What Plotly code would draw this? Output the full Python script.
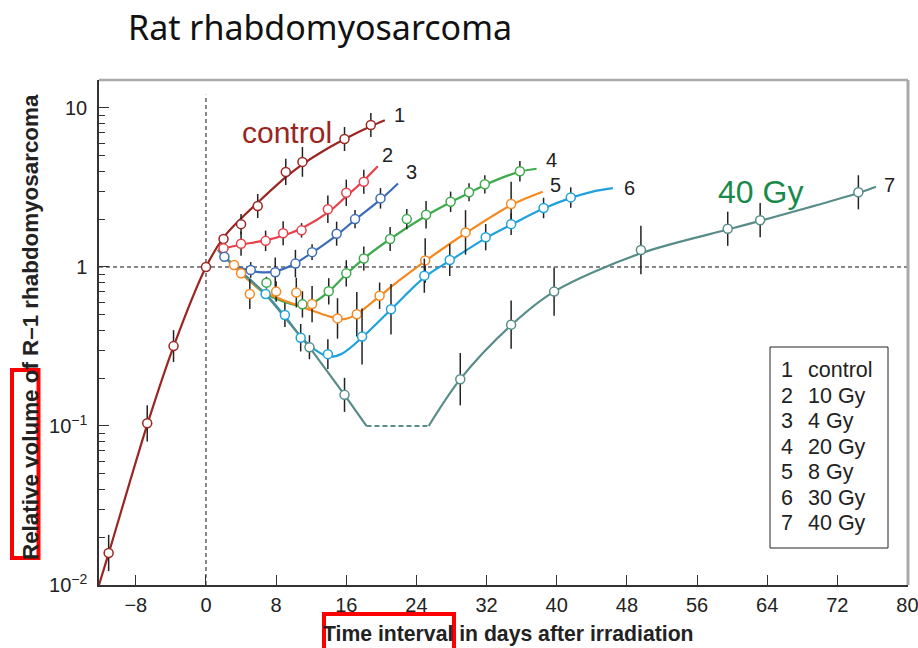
import plotly.graph_objects as go

# ---------------- measured tumour volumes (relative to day 0) ----------------
control_x = [-11.1, -6.7, -3.7, 0.0, 2.0, 4.0, 5.9, 9.1, 11.0, 15.8, 18.8]
control_y = [0.0159, 0.104, 0.318, 1.0, 1.50, 1.86, 2.42, 3.96, 4.58, 6.38, 7.82]
control_err = [1.30, 1.30, 1.26, 1.0, 1.0, 1.16, 1.19, 1.21, 1.24, 1.19, 1.19]

gy10_x = [2.0, 4.0, 6.8, 8.8, 10.9, 13.9, 16.0, 18.0]
gy10_y = [1.31, 1.40, 1.46, 1.63, 1.70, 2.31, 2.93, 3.44]
gy10_err = [1.0, 1.19, 1.16, 1.19, 1.11, 1.22, 1.21, 1.19]

gy4_x = [2.1, 5.1, 7.9, 10.2, 12.1, 14.9, 17.0, 19.9]
gy4_y = [1.16, 0.958, 0.926, 1.05, 1.24, 1.62, 2.0, 2.70]
gy4_err = [1.0, 1.12, 1.24, 1.22, 1.12, 1.19, 1.14, 1.16]

gy20_x = [6.9, 11.0, 14.0, 16.0, 18.0, 21.0, 22.9, 25.1, 27.9, 30.0, 31.8, 35.8]
gy20_y = [0.797, 0.582, 0.703, 0.912, 1.13, 1.50, 2.0, 2.13, 2.57, 2.95, 3.31, 4.0]
gy20_err = [1.09, 1.21, 1.21, 1.21, 1.19, 1.19, 1.16, 1.22, 1.16, 1.14, 1.14, 1.16]

gy8_x = [3.2, 4.0, 5.0, 8.0, 10.3, 12.1, 15.0, 17.2, 19.8, 25.0, 29.6, 34.8]
gy8_y = [1.03, 0.913, 0.676, 0.70, 0.69, 0.585, 0.475, 0.504, 0.66, 1.10, 1.65, 2.49]
gy8_err = [1.0, 1.0, 1.24, 1.16, 1.24, 1.30, 1.34, 1.38, 1.21, 1.38, 1.38, 1.38]

gy30_x = [6.8, 9.0, 10.8, 13.9, 17.8, 21.1, 24.9, 27.8, 31.9, 34.8, 38.5, 41.6]
gy30_y = [0.676, 0.499, 0.359, 0.283, 0.365, 0.542, 0.882, 1.107, 1.54, 1.86, 2.35, 2.74]
gy30_err = [1.0, 1.19, 1.22, 1.24, 1.50, 1.44, 1.28, 1.26, 1.21, 1.17, 1.16, 1.16]

gy40_x = [11.8, 15.8, 29.0, 34.8, 39.7, 49.6, 59.5, 63.2, 74.4]
gy40_y = [0.313, 0.157, 0.197, 0.434, 0.70, 1.28, 1.74, 1.97, 2.95]
gy40_err = [1.19, 1.28, 1.46, 1.42, 1.42, 1.42, 1.28, 1.28, 1.28]

# ---------------- fitted growth curves (knots, drawn as splines) ----------------
control_cx = [-12.2, -11.1, -6.7, -3.7, 0.0, 2.0, 4.0, 6.0, 9.0, 11.0, 14.0, 16.0, 18.8, 20.4]
control_cy = [0.0100, 0.0158, 0.102, 0.316, 1.0, 1.53, 2.02, 2.57, 3.63, 4.42, 5.62, 6.46, 7.67, 8.36]

gy10_cx = [1.4, 2.0, 4.0, 7.0, 9.0, 11.0, 14.0, 16.0, 18.0, 19.6]
gy10_cy = [1.28, 1.31, 1.38, 1.48, 1.59, 1.76, 2.22, 2.78, 3.50, 4.30]

gy4_cx = [1.4, 2.1, 3.5, 5.0, 6.5, 8.0, 10.0, 12.0, 15.0, 17.0, 20.0, 21.9]
gy4_cy = [1.28, 1.16, 1.01, 0.95, 0.925, 0.94, 1.04, 1.22, 1.60, 1.98, 2.68, 3.35]

gy20_cx = [1.4, 2.1, 6.7, 8.5, 10.0, 11.1, 12.3, 14.0, 16.0, 18.0, 21.0, 25.1, 27.9, 30.0, 31.8, 35.8, 37.7]
gy20_cy = [1.28, 1.16, 0.685, 0.615, 0.58, 0.575, 0.60, 0.70, 0.90, 1.13, 1.50, 2.10, 2.55, 2.92, 3.28, 3.98, 4.15]

gy8_cx = [1.4, 2.1, 6.5, 7.7, 10.0, 12.0, 14.0, 15.8, 17.2, 19.8, 22.0, 25.0, 29.6, 34.8, 38.4]
gy8_cy = [1.28, 1.16, 0.70, 0.655, 0.585, 0.535, 0.49, 0.47, 0.505, 0.655, 0.82, 1.09, 1.63, 2.45, 2.97]

gy30_cx = [1.4, 2.1, 6.7, 9.0, 10.9, 12.5, 14.0, 15.5, 17.8, 21.1, 25.0, 28.0, 32.0, 35.0, 38.5, 41.6, 44.0, 46.4]
gy30_cy = [1.28, 1.16, 0.685, 0.49, 0.36, 0.30, 0.273, 0.285, 0.36, 0.54, 0.87, 1.11, 1.53, 1.87, 2.33, 2.72, 2.97, 3.13]

gy40_fall_x = [1.4, 2.1, 6.7, 11.8, 15.8, 18.3]
gy40_fall_y = [1.28, 1.16, 0.685, 0.313, 0.157, 0.100]
gy40_gap_x = [18.3, 25.4]
gy40_gap_y = [0.100, 0.100]
gy40_rise_x = [25.4, 29.0, 34.8, 39.7, 49.6, 59.5, 63.2, 74.4, 76.4]
gy40_rise_y = [0.100, 0.197, 0.43, 0.70, 1.22, 1.72, 1.95, 2.92, 3.20]

# ---------------- labels ----------------
curve_ids = ["1", "2", "3", "4", "5", "6", "7"]
legend_labels = ["control", "10 Gy", "4 Gy", "20 Gy", "8 Gy", "30 Gy", "40 Gy"]
x_ticks = [-8, 0, 8, 16, 24, 32, 40, 48, 56, 64, 72, 80]
y_ticks = [0.01, 0.1, 1, 10]
y_ticktext = ["10<sup>\u22122</sup>", "10<sup>\u22121</sup>", "1", "10"]

colors = {
    "control": "#9B2521",
    "10": "#E8404A",
    "4": "#3D6CB7",
    "20": "#3DAA4B",
    "8": "#F5891F",
    "30": "#1EA1DC",
    "40": "#578C89",
}

FONT = "Arial, Liberation Sans, Helvetica, sans-serif"
INK = "#222222"

# plot-area pixel box used for placing free text and frame pieces
PL, PR, PT, PB = 99, 908, 80, 585
W, H = 918, 648


def px_x(px):
    return (px - PL) / (PR - PL)


def px_y(py):
    return (PB - py) / (PB - PT)


def err_parts(vals, factors):
    plus = [v * (f - 1.0) for v, f in zip(vals, factors)]
    minus = [v * (1.0 - 1.0 / f) for v, f in zip(vals, factors)]
    return plus, minus


fig = go.Figure()

# reference lines: volume = 1 and day 0
fig.add_trace(go.Scatter(x=[-12.2, 80], y=[1, 1], mode="lines",
                         line=dict(color="#111", width=1, dash="4px,3px"),
                         hoverinfo="skip", showlegend=False))
fig.add_trace(go.Scatter(x=[0, 0], y=[0.01, 12.1], mode="lines",
                         line=dict(color="#111", width=1, dash="4px,3px"),
                         hoverinfo="skip", showlegend=False))

curves = [
    (control_cx, control_cy, colors["control"]),
    (gy10_cx, gy10_cy, colors["10"]),
    (gy4_cx, gy4_cy, colors["4"]),
    (gy20_cx, gy20_cy, colors["20"]),
    (gy8_cx, gy8_cy, colors["8"]),
    (gy30_cx, gy30_cy, colors["30"]),
    (gy40_rise_x, gy40_rise_y, colors["40"]),
]
for cx, cy, col in curves:
    fig.add_trace(go.Scatter(x=cx, y=cy, mode="lines",
                             line=dict(color=col, width=2.2, shape="spline", smoothing=0.9),
                             hoverinfo="skip", showlegend=False))

fig.add_trace(go.Scatter(x=gy40_fall_x, y=gy40_fall_y, mode="lines",
                         line=dict(color=colors["40"], width=2.2),
                         hoverinfo="skip", showlegend=False))
fig.add_trace(go.Scatter(x=gy40_gap_x, y=gy40_gap_y, mode="lines",
                         line=dict(color=colors["40"], width=2.2, dash="5px,3px"),
                         hoverinfo="skip", showlegend=False))

series = [
    (control_x, control_y, control_err, colors["control"]),
    (gy10_x, gy10_y, gy10_err, colors["10"]),
    (gy4_x, gy4_y, gy4_err, colors["4"]),
    (gy20_x, gy20_y, gy20_err, colors["20"]),
    (gy8_x, gy8_y, gy8_err, colors["8"]),
    (gy30_x, gy30_y, gy30_err, colors["30"]),
    (gy40_x, gy40_y, gy40_err, colors["40"]),
]
for sx, sy, se, col in series:
    plus, minus = err_parts(sy, se)
    fig.add_trace(go.Scatter(
        x=sx, y=sy, mode="markers",
        marker=dict(symbol="circle", size=9, color="white", line=dict(color=col, width=1.5)),
        error_y=dict(type="data", symmetric=False, array=plus, arrayminus=minus,
                     color=INK, thickness=1.5, width=0),
        hoverinfo="skip", showlegend=False))

annotations = []

# curve numbers next to the line ends (x in days, y as log10 volume)
curve_label_pos = [(22.1, 0.956), (20.7, 0.704), (23.4, 0.60), (39.4, 0.673),
                   (39.9, 0.516), (48.3, 0.497), (78.0, 0.516)]
for cid, (lx, ly) in zip(curve_ids, curve_label_pos):
    annotations.append(dict(x=lx, y=ly, xref="x", yref="y", text=cid, showarrow=False,
                            font=dict(family=FONT, size=20, color=INK),
                            xanchor="center", yanchor="middle"))

annotations.append(dict(x=9.2, y=0.845, xref="x", yref="y", text="control", showarrow=False,
                        font=dict(family=FONT, size=30, color=colors["control"]),
                        xanchor="center", yanchor="middle"))
annotations.append(dict(x=63.2, y=0.47, xref="x", yref="y", text="40 Gy", showarrow=False,
                        font=dict(family=FONT, size=32, color="#1A8A4C"),
                        xanchor="center", yanchor="middle"))

# legend box contents
leg_rows = [370, 395.5, 421, 446.5, 472, 497.5, 523]
for num, lab, ry in zip(curve_ids, legend_labels, leg_rows):
    annotations.append(dict(x=px_x(779), y=px_y(ry), xref="paper", yref="paper", text=num,
                            showarrow=False, xanchor="left", yanchor="middle",
                            font=dict(family=FONT, size=21.5, color=INK)))
    annotations.append(dict(x=px_x(806), y=px_y(ry), xref="paper", yref="paper", text=lab,
                            showarrow=False, xanchor="left", yanchor="middle",
                            font=dict(family=FONT, size=21.5, color=INK)))

# title and axis titles
annotations.append(dict(x=px_x(126), y=px_y(27), xref="paper", yref="paper",
                        text="Rat rhabdomyosarcoma", showarrow=False,
                        xanchor="left", yanchor="middle",
                        font=dict(family="Comic Sans MS, Noto Sans, sans-serif", size=34, color="#111")))
annotations.append(dict(x=px_x(508), y=px_y(634), xref="paper", yref="paper",
                        text="<b>Time interval in days after irradiation</b>", showarrow=False,
                        xanchor="center", yanchor="middle",
                        font=dict(family=FONT, size=21.2, color=INK)))
annotations.append(dict(x=px_x(30), y=px_y(327), xref="paper", yref="paper",
                        text="<b>Relative volume of R\u20131 rhabdomyosarcoma</b>", showarrow=False,
                        textangle=-90, xanchor="center", yanchor="middle",
                        font=dict(family=FONT, size=22.4, color=INK)))

shapes = [
    # light frame on top and right
    dict(type="line", xref="paper", yref="paper", x0=px_x(PL), x1=px_x(PR), y0=1, y1=1,
         line=dict(color="#A9A9A9", width=2.5)),
    dict(type="line", xref="paper", yref="paper", x0=1, x1=1, y0=0, y1=1,
         line=dict(color="#A9A9A9", width=3)),
    # legend frame
    dict(type="rect", xref="paper", yref="paper", x0=px_x(770), x1=px_x(888),
         y0=px_y(548), y1=px_y(347), line=dict(color="#222", width=1)),
    # highlight boxes
    dict(type="rect", xref="paper", yref="paper", x0=px_x(12), x1=px_x(38.5),
         y0=px_y(558), y1=px_y(370), line=dict(color="#FF0000", width=4)),
    dict(type="rect", xref="paper", yref="paper", x0=px_x(324), x1=px_x(454),
         y0=px_y(660), y1=px_y(614), line=dict(color="#FF0000", width=4)),
]

minor_vals = [m * 10.0 ** k for k in (-2, -1, 0, 1) for m in range(2, 10) if m * 10.0 ** k < 15]

fig.update_layout(
    width=W, height=H,
    margin=dict(l=PL, r=W - PR, t=PT, b=H - PB, autoexpand=False),
    paper_bgcolor="white", plot_bgcolor="white",
    showlegend=False,
    annotations=annotations,
    shapes=shapes,
    xaxis=dict(range=[-12.2, 80.06], tickvals=x_ticks,
               ticktext=[str(t).replace("-", "\u2212") for t in x_ticks],
               ticks="inside", ticklen=10, tickwidth=1.2, tickcolor="#333",
               showline=True, linecolor="#333", linewidth=1.5,
               showgrid=False, zeroline=False, ticklabelstandoff=1,
               ticklabeloverflow="allow", automargin=False,
               tickfont=dict(family=FONT, size=20, color=INK)),
    yaxis=dict(type="log", range=[-2, 1.176], tickvals=y_ticks, ticktext=y_ticktext,
               ticks="inside", ticklen=10, tickwidth=1.2, tickcolor="#333",
               minor=dict(tickvals=minor_vals, ticks="inside", ticklen=6,
                          tickwidth=1, tickcolor="#333", showgrid=False),
               showline=True, linecolor="#333", linewidth=1.5,
               showgrid=False, zeroline=False, ticklabelstandoff=6,
               automargin=False,
               tickfont=dict(family=FONT, size=20, color=INK)),
)

fig.write_html("out.html")
